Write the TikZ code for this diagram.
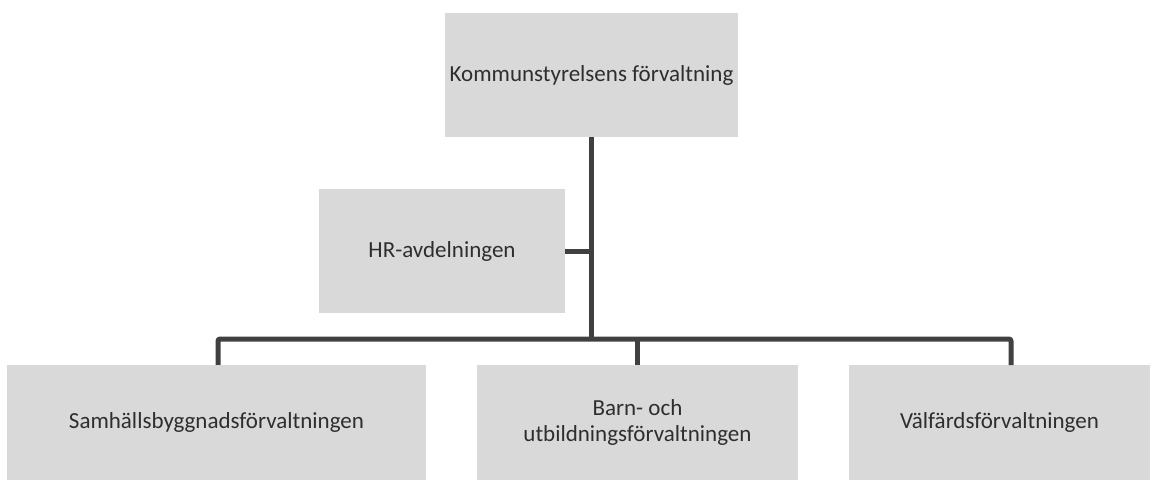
\documentclass[tikz,border=0pt]{standalone}
\usepackage{fontspec}
\setmainfont{Carlito}
\definecolor{boxgrey}{HTML}{D9D9D9}
\definecolor{linegrey}{HTML}{404040}
\definecolor{textgrey}{HTML}{2E2E2E}
\tikzset{
  unit/.style={draw=none, fill=boxgrey, text=textgrey, font=\fontsize{23}{26}\selectfont, align=center, inner sep=0pt},
  conn/.style={draw=linegrey, line width=5pt, line join=round}
}
\begin{document}
\begin{tikzpicture}[x=1pt, y=-1pt]
\useasboundingbox (0,0) rectangle (1154,483);

\node[unit, minimum width=293pt, minimum height=124pt] (ks) at (591.5,75) {Kommunstyrelsens förvaltning};
\node[unit, minimum width=246pt, minimum height=124pt] (hr) at (442,251) {HR-avdelningen};
\node[unit, minimum width=419pt, minimum height=115pt] (sbf) at (216.5,422.5) {Samhällsbyggnadsförvaltningen};
\node[unit, minimum width=321pt, minimum height=115pt] (buf) at (637.5,422.5) {Barn- och\\utbildningsförvaltningen};
\node[unit, minimum width=301pt, minimum height=115pt] (vf) at (999.5,422.5) {Välfärdsförvaltningen};

\coordinate (bar) at (591,339);
\coordinate (vfdrop) at (1011,365);

% connectors
\draw[conn] (ks.south -| bar) -- (bar);
\draw[conn] (hr.east) -- (hr.east -| bar);
\draw[conn, rounded corners=2pt] (sbf.north -| 218,0) |- (bar) -| (vfdrop);
\draw[conn] (bar -| buf.north) -- (buf.north);

\end{tikzpicture}
\end{document}
